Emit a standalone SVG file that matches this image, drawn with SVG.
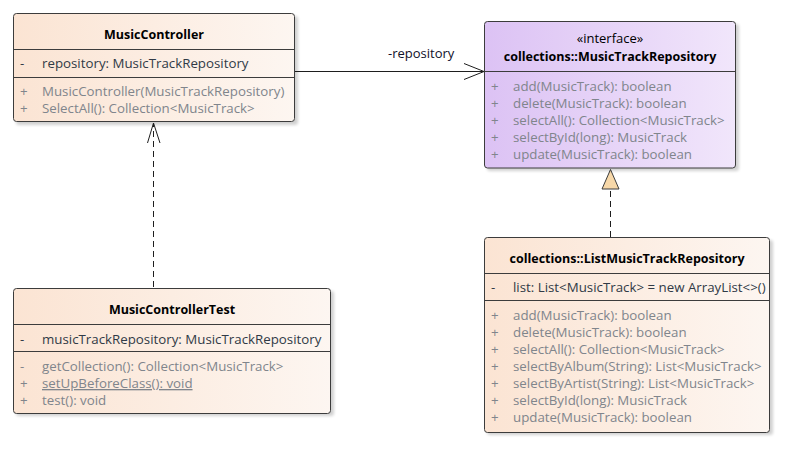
<svg xmlns="http://www.w3.org/2000/svg" width="787" height="473" viewBox="0 0 787 473">
<defs>
<linearGradient id="gClass" x1="0" y1="0" x2="1" y2="0">
<stop offset="0" stop-color="#fbe4d3"/>
<stop offset="1" stop-color="#fdf6f1"/>
</linearGradient>
<linearGradient id="gIface" x1="0" y1="0" x2="1" y2="0">
<stop offset="0" stop-color="#dcc2f4"/>
<stop offset="1" stop-color="#f1e6fb"/>
</linearGradient>
<filter id="sh" x="-10%" y="-10%" width="130%" height="130%">
<feGaussianBlur stdDeviation="1.5"/>
</filter>
</defs>
<style>
text{font-family:"Open Sans","Noto Sans","Liberation Sans",sans-serif;font-size:13.3px}
.title{font-weight:bold;fill:#000;text-anchor:middle;font-size:12.5px}
.stereo{fill:#000;text-anchor:middle;font-size:13px}
.attr{fill:#303a46}
.op{fill:#80858c}
.box{stroke:#3c3c3c;stroke-width:1}
.shadow{fill:#000;opacity:0.18;filter:url(#sh)}
.div{stroke:#3c3c3c;stroke-width:1}
.conn{stroke:#1e1e1e;stroke-width:1;fill:none}
.dash{stroke-dasharray:6,4}
.lbl{fill:#10102a;font-size:13px}
</style>
<rect width="787" height="473" fill="#ffffff"/>

<g id="connectors">
<line class="conn" x1="295" y1="71.5" x2="484" y2="71.5"/>
<polyline class="conn" points="464,63.5 484,71.5 464,79.5"/>
<text class="lbl" x="388" y="58">-repository</text>
<line class="conn dash" x1="153.5" y1="287" x2="153.5" y2="123"/>
<polyline class="conn" points="147.5,143 153.5,123 160,143"/>
<line class="conn dash" x1="610.5" y1="237" x2="610.5" y2="189"/>
<polygon points="610.5,169.5 602,189 619,189" fill="#f7d8a9" stroke="#3c3c3c" stroke-width="1"/>
</g>

<g id="MusicController">
<rect class="shadow" x="16" y="16" width="282" height="109" rx="3"/>
<rect class="box" x="13.5" y="13.5" width="281" height="108" rx="3" fill="url(#gClass)"/>
<line class="div" x1="13.5" y1="49.5" x2="294.5" y2="49.5"/>
<line class="div" x1="13.5" y1="77.5" x2="294.5" y2="77.5"/>
<text class="title" x="154" y="39">MusicController</text>
<text class="attr" x="20" y="67.5">-</text>
<text class="attr" x="42" y="67.5">repository: MusicTrackRepository</text>
<text class="op" x="20" y="96">+</text>
<text class="op" x="42" y="96">MusicController(MusicTrackRepository)</text>
<text class="op" x="20" y="113">+</text>
<text class="op" x="42" y="113">SelectAll(): Collection&lt;MusicTrack&gt;</text>
</g>

<g id="MusicTrackRepository">
<rect class="shadow" x="487" y="24" width="252" height="147" rx="3"/>
<rect class="box" x="484.5" y="21.5" width="251" height="146.5" rx="3" fill="url(#gIface)"/>
<line class="div" x1="484.5" y1="71.5" x2="735.5" y2="71.5"/>
<text class="stereo" x="610" y="43">«interface»</text>
<text class="title" x="610" y="60.5">collections::MusicTrackRepository</text>
<text class="op" x="491" y="91">+</text>
<text class="op" x="513" y="91">add(MusicTrack): boolean</text>
<text class="op" x="491" y="108">+</text>
<text class="op" x="513" y="108">delete(MusicTrack): boolean</text>
<text class="op" x="491" y="125">+</text>
<text class="op" x="513" y="125">selectAll(): Collection&lt;MusicTrack&gt;</text>
<text class="op" x="491" y="142">+</text>
<text class="op" x="513" y="142">selectById(long): MusicTrack</text>
<text class="op" x="491" y="159">+</text>
<text class="op" x="513" y="159">update(MusicTrack): boolean</text>
</g>

<g id="MusicControllerTest">
<rect class="shadow" x="16" y="291" width="318" height="125" rx="3"/>
<rect class="box" x="13.5" y="288.5" width="317" height="125" rx="3" fill="url(#gClass)"/>
<line class="div" x1="13.5" y1="324.5" x2="330.5" y2="324.5"/>
<line class="div" x1="13.5" y1="351.5" x2="330.5" y2="351.5"/>
<text class="title" x="172" y="314">MusicControllerTest</text>
<text class="attr" x="20" y="343.5">-</text>
<text class="attr" x="42" y="343.5">musicTrackRepository: MusicTrackRepository</text>
<text class="op" x="20" y="371">-</text>
<text class="op" x="42" y="371">getCollection(): Collection&lt;MusicTrack&gt;</text>
<text class="op" x="20" y="388">+</text>
<text class="op" x="42" y="388" text-decoration="underline">setUpBeforeClass(): void</text>
<text class="op" x="20" y="405">+</text>
<text class="op" x="42" y="405">test(): void</text>
</g>

<g id="ListMusicTrackRepository">
<rect class="shadow" x="487" y="240" width="286" height="195" rx="3"/>
<rect class="box" x="484.5" y="237.5" width="285" height="195" rx="3" fill="url(#gClass)"/>
<line class="div" x1="484.5" y1="273.5" x2="769.5" y2="273.5"/>
<line class="div" x1="484.5" y1="300.5" x2="769.5" y2="300.5"/>
<text class="title" x="627" y="263">collections::ListMusicTrackRepository</text>
<text class="attr" x="491" y="291.5">-</text>
<text class="attr" x="513" y="291.5">list: List&lt;MusicTrack&gt; = new ArrayList&lt;&gt;()</text>
<text class="op" x="491" y="320">+</text>
<text class="op" x="513" y="320">add(MusicTrack): boolean</text>
<text class="op" x="491" y="337">+</text>
<text class="op" x="513" y="337">delete(MusicTrack): boolean</text>
<text class="op" x="491" y="354">+</text>
<text class="op" x="513" y="354">selectAll(): Collection&lt;MusicTrack&gt;</text>
<text class="op" x="491" y="371">+</text>
<text class="op" x="513" y="371">selectByAlbum(String): List&lt;MusicTrack&gt;</text>
<text class="op" x="491" y="388">+</text>
<text class="op" x="513" y="388">selectByArtist(String): List&lt;MusicTrack&gt;</text>
<text class="op" x="491" y="405">+</text>
<text class="op" x="513" y="405">selectById(long): MusicTrack</text>
<text class="op" x="491" y="422">+</text>
<text class="op" x="513" y="422">update(MusicTrack): boolean</text>
</g>
</svg>
